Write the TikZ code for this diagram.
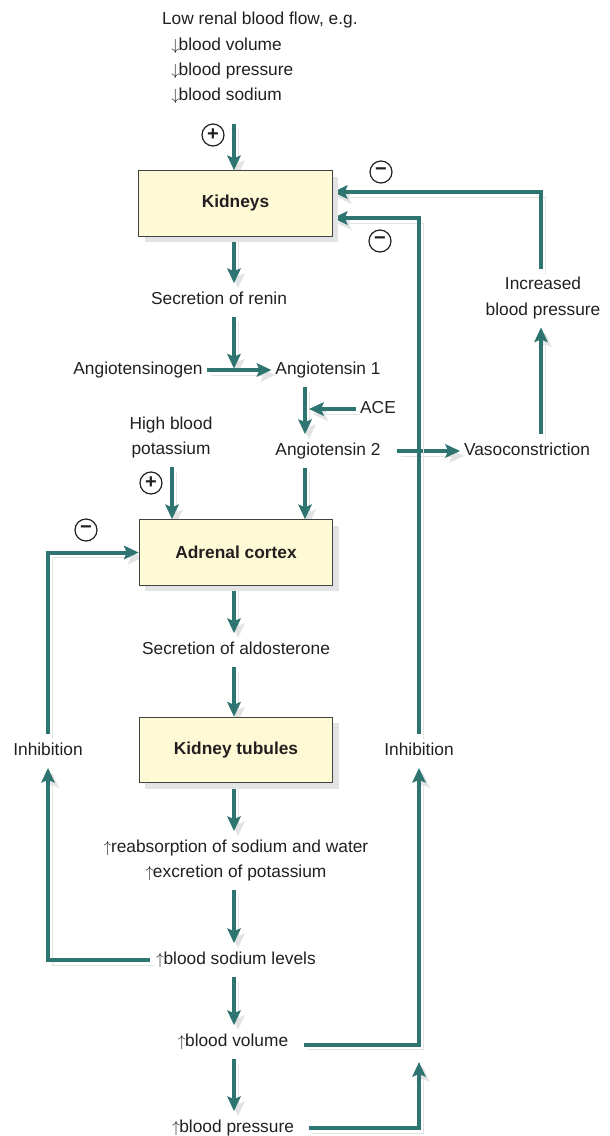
\documentclass[tikz,border=0pt]{standalone}
\usepackage{fontspec}
\setmainfont{Liberation Sans}
\usetikzlibrary{arrows.meta,shadows,backgrounds,positioning}

\definecolor{arrowteal}{RGB}{46,117,113}
\definecolor{boxfill}{RGB}{255,250,214}
\definecolor{shadowgrey}{RGB}{226,227,229}
\definecolor{inkgrey}{RGB}{35,31,32}

\newcommand{\up}{$\uparrow$\kern-0.5pt}
\newcommand{\down}{$\downarrow$\kern-0.5pt}

\tikzset{
  txt/.style={font=\fontsize{13}{19}\selectfont, text=inkgrey, align=center,
    inner sep=2pt, outer xsep=1pt, outer ysep=4.5pt},
  line/.style={txt, text height=9.5pt, text depth=2.8pt},
  box/.style={draw=inkgrey!85, line width=0.9pt, fill=boxfill,
    minimum width=145pt, minimum height=49pt, text=inkgrey,
    font=\fontsize{13}{16}\selectfont\bfseries,
    drop shadow={shadow xshift=4.5pt, shadow yshift=-4.5pt, fill=shadowgrey, opacity=1}},
  arr/.style={draw=arrowteal, line width=3pt,
    -{Stealth[length=11pt,width=10pt,inset=2pt]},
    preaction={draw=shadowgrey, transform canvas={shift={(4,5)}}}},
  sign/.style={circle, draw=inkgrey, line width=0.9pt, minimum size=16.5pt,
    inner sep=0pt, text=inkgrey, font=\fontsize{15}{15}\selectfont\bfseries}
}

\begin{document}
\begin{tikzpicture}[x=0.75pt, y=-0.75pt]
\useasboundingbox (0,0) rectangle (610,1136);

% columns the connectors run along
\coordinate (colL) at (48,0);
\coordinate (colK) at (172,0);
\coordinate (colA) at (234,0);
\coordinate (colB) at (305,0);
\coordinate (colR) at (419,0);
\coordinate (colV) at (541,0);

% boxes
\node[box] (kid) at (235.5,203.5) {Kidneys};
\node[box] (adr) at (236,552.5) {Adrenal cortex};
\node[box] (tub) at (236,750) {Kidney tubules};

% texts
\node[txt, align=left, anchor=west] (low) at (158,58)
  {Low renal blood flow, e.g.\\ \hspace*{7pt}\down blood volume\\ \hspace*{7pt}\down blood pressure\\ \hspace*{7pt}\down blood sodium};
\node[line] (renin) at (219,300) {Secretion of renin};
\node[line] (agen) at (138,370) {Angiotensinogen};
\node[line] (ang1) at (328,370) {Angiotensin 1};
\node[line] (ace) at (378,409) {ACE};
\node[line] (ang2) at (328,451) {Angiotensin 2};
\node[txt] (hik) at (171,437.5) {High blood\\potassium};
\node[line] (vaso) at (527,451) {Vasoconstriction};
\node[txt] (ibp) at (543,298) {Increased\\blood pressure};
\node[line] (aldo) at (236,650) {Secretion of aldosterone};
\node[txt] (reab) at (236,860.5) {\up reabsorption of sodium and water\\\up excretion of potassium};
\node[line] (sod) at (236,960) {\up blood sodium levels};
\node[line] (vol) at (233,1042) {\up blood volume};
\node[line] (bp) at (233,1128) {\up blood pressure};
\node[line] (inhL) at (48,751) {Inhibition};
\node[line] (inhR) at (419,751) {Inhibition};

% plus and minus signs
\node[sign] (plusA) at (213,135) {+};
\node[sign] (minusA) at (381,172) {−};
\node[sign] (minusB) at (380,241) {−};
\node[sign] (plusB) at (151,483) {+};
\node[sign] (minusC) at (86,530) {−};

\coordinate (lowfoot) at (234,124);
\coordinate (rtip) at (419,1062);

\begin{pgfonlayer}{background}
\draw[arr] (lowfoot) -- (kid.north -| colA);
\draw[arr] (kid.south -| colA) -- (renin.north -| colA);
\draw[arr, shorten >=1pt] (renin.south -| colA) -- (agen.east -| colA);
\draw[arr] (agen.east) -- (ang1.west);
\draw[arr] (ang1.south -| colB) -- (ang2.north -| colB);
\draw[arr, shorten >=3pt] (ace.west) -- (ace.west -| colB);
\draw[arr] (hik.south -| colK) -- (adr.north -| colK);
\draw[arr] (ang2.south -| colB) -- (adr.north -| colB);
\draw[arr, shorten <=9pt] (ang2.east) -- (vaso.west);
\draw[arr] (vaso.north -| colV) -- (ibp.south -| colV);
\draw[arr] (ibp.north -| colV) |- ([yshift=8.6pt]kid.east);
\draw[arr] (adr.south -| colA) -- (aldo.north -| colA);
\draw[arr] (aldo.south -| colA) -- (tub.north -| colA);
\draw[arr] (tub.south -| colA) -- (reab.north -| colA);
\draw[arr] (reab.south -| colA) -- (sod.north -| colA);
\draw[arr] (sod.south -| colA) -- (vol.north -| colA);
\draw[arr] (vol.south -| colA) -- (bp.north -| colA);
\draw[arr, shorten <=2pt] (sod.west) -| (inhL.south);
\draw[arr] (inhL.north) |- (adr.west);
\draw[arr, shorten <=9pt] ([yshift=-2pt]vol.east) -| (inhR.south);
\draw[arr] (inhR.north) |- ([yshift=-10.9pt]kid.east);
\draw[arr, shorten <=8pt] (bp.east) -| (rtip);
\end{pgfonlayer}
\end{tikzpicture}
\end{document}
